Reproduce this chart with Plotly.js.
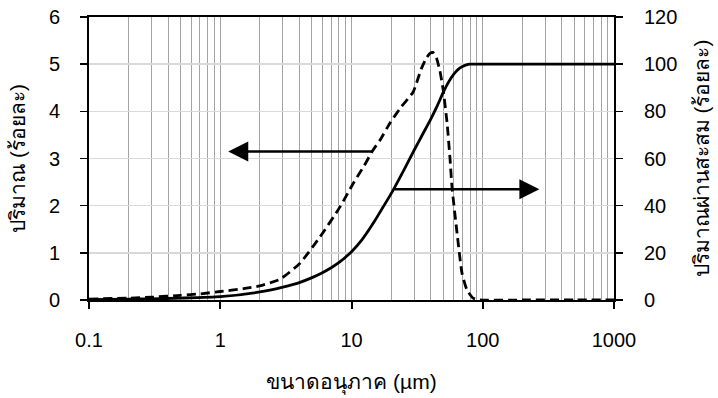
<!DOCTYPE html>
<html>
<head>
<meta charset="utf-8">
<script src="https://cdn.plot.ly/plotly-3.0.1.min.js"></script>
<style>html,body{margin:0;padding:0;background:#fff;}#chart{width:718px;height:398px;}</style>
</head>
<body>
<div id="chart"></div>
<script>
// Particle size (µm) and amount (%) for the distribution (dashed, left axis)
const distSize = [0.1, 0.2, 0.3, 0.5, 0.7, 1, 1.5, 2, 2.85, 4.05, 5.76, 8.2, 10.2, 12.5, 14.6, 16.5, 19.6, 24, 29.5, 34, 37, 39.6, 41.7, 44.5, 47.2, 50, 53.5, 56.3, 58.3, 63.7, 69.5, 75.9, 84.4, 95, 200, 500, 1000];
const distPct  = [0.02, 0.04, 0.06, 0.1, 0.13, 0.18, 0.24, 0.3, 0.44, 0.78, 1.34, 1.98, 2.45, 2.85, 3.18, 3.39, 3.75, 4.1, 4.41, 4.9, 5.12, 5.23, 5.25, 5.12, 4.85, 4.45, 3.75, 3.0, 2.4, 1.42, 0.57, 0.21, 0.04, 0, 0, 0, 0];
// Cumulative passing (%) (solid, right axis)
const cumSize = [0.1, 0.2, 0.3, 0.5, 1, 2, 3, 4, 5, 6, 7, 8, 10, 12, 15, 17.4, 20, 25, 30, 35, 40, 45, 50, 55, 60, 65, 70, 75, 80, 100, 200, 500, 1000];
const cumPct  = [0.2, 0.35, 0.5, 0.8, 1.4, 3.4, 5.5, 7.4, 9.5, 11.6, 13.7, 15.8, 20.5, 25.5, 33.5, 39.4, 45, 55, 63.5, 70.5, 76.5, 82.3, 88, 92.5, 95.7, 97.8, 99, 99.7, 100, 100, 100, 100, 100];
// Arrows: [tailSize, headSize, level(left-axis units)]
const arrowLeft  = [14.6, 1.15, 3.15];
const arrowRight = [20.7, 270, 2.35];
// Tick labels
const xTickVals = [0.1, 1, 10, 100, 1000];
const xTickText = ['0.1', '1', '10', '100', '1000'];
const xTitle = 'ขนาดอนุภาค (µm)';
const y1Title = 'ปริมาณ (ร้อยละ)';
const y2Title = 'ปริมาณผ่านสะสม (ร้อยละ)';

const minorVals = [];
for (let d = 0.1; d < 1000; d *= 10) {
  for (let k = 2; k <= 9; k++) minorVals.push(+(d * k).toPrecision(3));
}

const font = {family: 'Liberation Sans, Arial, Noto Sans, sans-serif', size: 20, color: '#000'};
const titleFont = {family: 'Liberation Sans, Arial, Noto Sans, sans-serif', size: 21, color: '#000'};

const traces = [
  {x: distSize, y: distPct, type: 'scatter', mode: 'lines', yaxis: 'y',
   line: {color: '#000', width: 2.8, dash: '9px,5px', shape: 'spline', smoothing: 0.5}, hoverinfo: 'skip'},
  {x: cumSize, y: cumPct, type: 'scatter', mode: 'lines', yaxis: 'y2',
   line: {color: '#000', width: 2.8, shape: 'spline', smoothing: 0.5}, hoverinfo: 'skip'}
];

function arrow(a) {
  return {x: Math.log10(a[1]), y: a[2], ax: Math.log10(a[0]), ay: a[2],
    xref: 'x', yref: 'y', axref: 'x', ayref: 'y', text: '', showarrow: true,
    arrowhead: 2, arrowsize: 1.6, arrowwidth: 2.5, arrowcolor: '#000'};
}

const layout = {
  width: 718, height: 398,
  margin: {l: 89, r: 104, t: 17, b: 98},
  paper_bgcolor: '#fff', plot_bgcolor: '#fff',
  showlegend: false,
  font: font,
  xaxis: {type: 'log', range: [-1, 3], tickvals: xTickVals, ticktext: xTickText,
    showgrid: true, gridcolor: '#a3a3a3', gridwidth: 1,
    minor: {tickvals: minorVals, showgrid: true, gridcolor: '#a3a3a3', gridwidth: 1, ticks: ''},
    ticks: 'outside', ticklen: 7, tickwidth: 2, tickcolor: '#000', ticklabelstandoff: 14,
    showline: true, linecolor: '#000', linewidth: 2, mirror: true,
    zeroline: false, tickfont: font,
    title: {text: xTitle, font: titleFont, standoff: 24}},
  yaxis: {range: [0, 6], dtick: 1, tick0: 0,
    showgrid: true, gridcolor: '#d9d9d9', gridwidth: 1.5,
    ticks: 'outside', ticklen: 7, tickwidth: 1.5, tickcolor: '#000', ticklabelstandoff: 16,
    showline: true, linecolor: '#000', linewidth: 2, mirror: false,
    zeroline: false, tickfont: font,
    title: {text: y1Title, font: titleFont, standoff: 18}},
  yaxis2: {range: [0, 120], dtick: 20, tick0: 0, overlaying: 'y', side: 'right',
    showgrid: false, ticks: 'outside', ticklen: 7, tickwidth: 1.5, tickcolor: '#000', ticklabelstandoff: 17,
    showline: true, linecolor: '#000', linewidth: 2,
    zeroline: false, tickfont: font,
    title: {text: y2Title, font: titleFont, standoff: 18}},
  annotations: [arrow(arrowLeft), arrow(arrowRight)]
};

Plotly.newPlot('chart', traces, layout, {displayModeBar: false, staticPlot: true});
</script>
</body>
</html>
